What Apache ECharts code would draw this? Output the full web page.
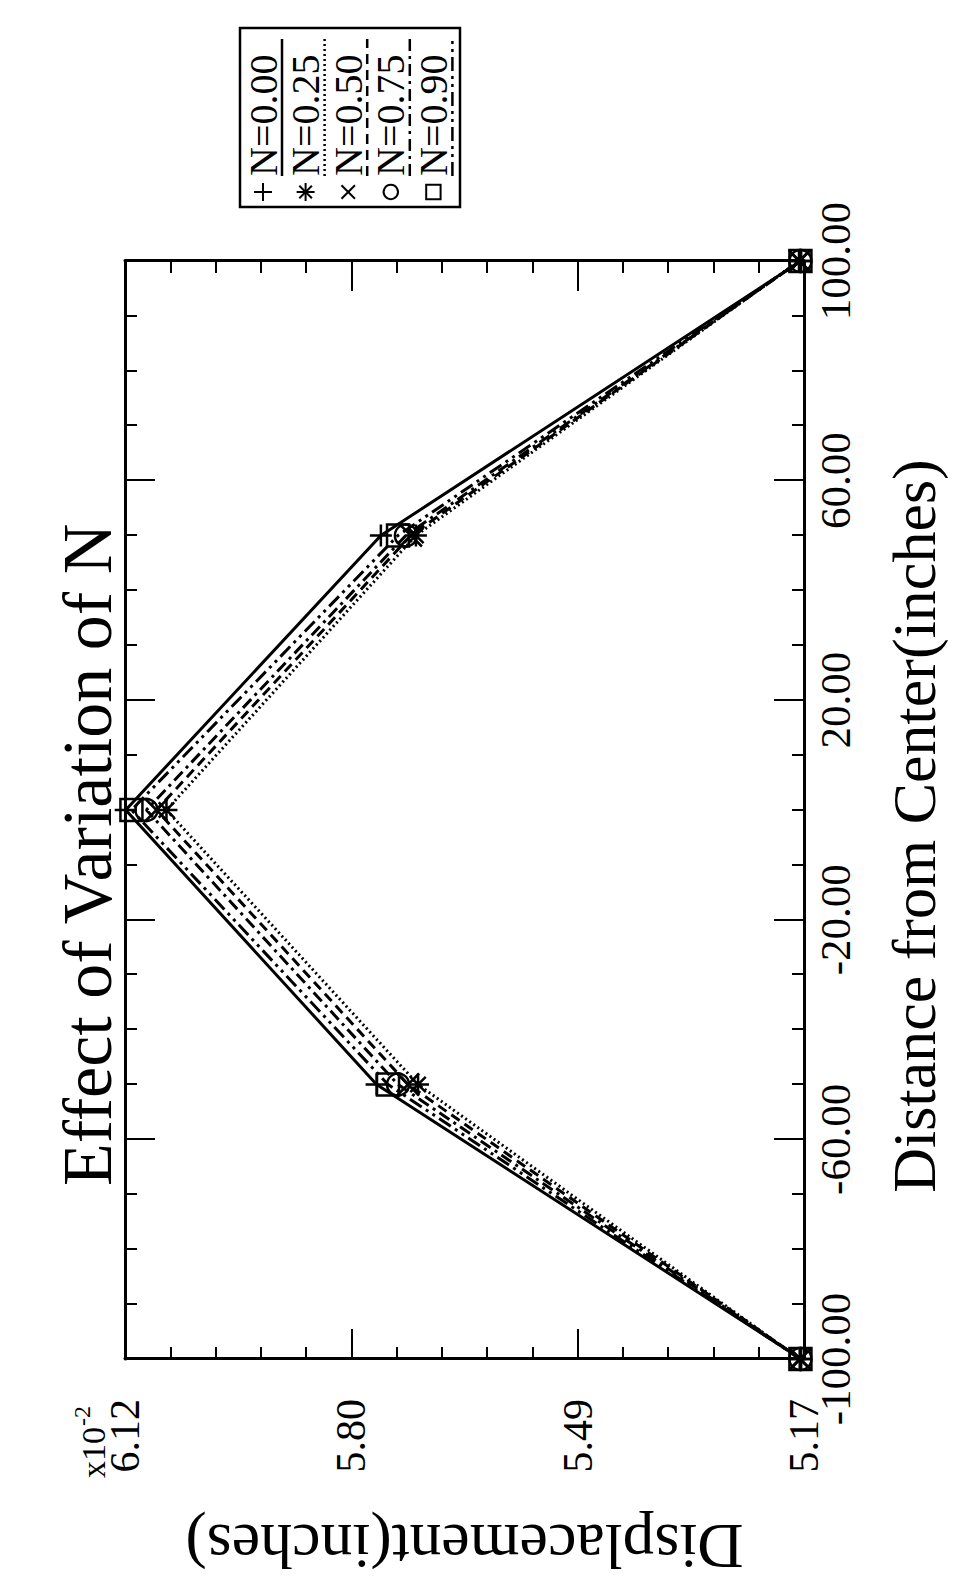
<!DOCTYPE html>
<html><head><meta charset="utf-8">
<script src="https://cdn.jsdelivr.net/npm/echarts@6/dist/echarts.min.js"></script>
<style>
html,body{margin:0;padding:0;background:#fff;width:953px;height:1586px;overflow:hidden;}
#chart{position:absolute;left:0;top:0;width:1586px;height:953px;transform-origin:0 0;transform:translate(0,1586px) rotate(-90deg);background:#fff;}
</style></head><body><div id="chart"></div>
<script>
// ---- data (displacement in units of 1e-2 inches) ----
const distance = [-100, -50, 0, 50, 100];
const seriesNames = ['N=0.00', 'N=0.25', 'N=0.50', 'N=0.75', 'N=0.90'];
const dispN000 = [5.174, 5.768, 6.119, 5.762, 5.174];
const dispN025 = [5.176, 5.710, 6.062, 5.713, 5.177];
const dispN050 = [5.175, 5.724, 6.076, 5.720, 5.176];
const dispN075 = [5.175, 5.738, 6.090, 5.727, 5.175];
const dispN090 = [5.175, 5.752, 6.111, 5.738, 5.175];
const xTickLabels = ['-100.00', '-60.00', '-20.00', '20.00', '60.00', '100.00'];
const yTickLabels = ['5.17', '5.49', '5.80', '6.12'];

const FONT = '"Liberation Serif", "DejaVu Serif", serif';
const allData = [dispN000, dispN025, dispN050, dispN075, dispN090];
const dashes = ['solid', [2, 3], [10, 6], [12, 5, 3, 5], [14, 5, 3, 5, 3, 5]];
const symbols = [
  'path://M0,10L20,10M10,0L10,20',
  'path://M10,0L10,20M0,10L20,10M3,3L17,17M17,3L3,17',
  'path://M0,0L20,20M20,0L0,20',
  'path://M10,0A10,10,0,1,1,9.99,0Z',
  'path://M0,0L20,0L20,20L0,20Z'
];

const chart = echarts.init(document.getElementById('chart'), null, {renderer: 'svg', width: 1586, height: 953});

const series = allData.map((d, i) => ({
  name: seriesNames[i],
  type: 'line',
  data: distance.map((x, j) => [x, d[j]]),
  symbol: symbols[i],
  symbolSize: 22,
  showSymbol: true,
  itemStyle: {color: 'rgba(0,0,0,0)', borderColor: '#000', borderWidth: 2.5},
  lineStyle: {color: '#000', width: 3, type: dashes[i]},
  emphasis: {disabled: true},
  animation: false
}));

// legend drawn as graphic (marker + label, line sample underneath)
const LG = {x: 1379, y: 240, w: 179, h: 220, pitch: 42.6, font: 40};
const legendEls = [{type: 'rect', shape: {x: LG.x, y: LG.y, width: LG.w, height: LG.h}, style: {fill: '#fff', stroke: '#000', lineWidth: 2.5}}];
function markerEls(kind, cx, cy, r) {
  const st = {stroke: '#000', lineWidth: 2, fill: 'none'};
  if (kind === 0) return [{type: 'line', shape: {x1: cx - r, y1: cy, x2: cx + r, y2: cy}, style: st}, {type: 'line', shape: {x1: cx, y1: cy - r, x2: cx, y2: cy + r}, style: st}];
  if (kind === 1) { const d = r * 0.7; return [
    {type: 'line', shape: {x1: cx - r, y1: cy, x2: cx + r, y2: cy}, style: st},
    {type: 'line', shape: {x1: cx, y1: cy - r, x2: cx, y2: cy + r}, style: st},
    {type: 'line', shape: {x1: cx - d, y1: cy - d, x2: cx + d, y2: cy + d}, style: st},
    {type: 'line', shape: {x1: cx - d, y1: cy + d, x2: cx + d, y2: cy - d}, style: st}]; }
  if (kind === 2) { const d = r * 0.75; return [
    {type: 'line', shape: {x1: cx - d, y1: cy - d, x2: cx + d, y2: cy + d}, style: st},
    {type: 'line', shape: {x1: cx - d, y1: cy + d, x2: cx + d, y2: cy - d}, style: st}]; }
  if (kind === 3) return [{type: 'circle', shape: {cx: cx, cy: cy, r: r * 0.8}, style: st}];
  return [{type: 'rect', shape: {x: cx - r * 0.8, y: cy - r * 0.8, width: r * 1.6, height: r * 1.6}, style: st}];
}
seriesNames.forEach((nm, i) => {
  const cy = LG.y + 23 + i * LG.pitch;
  markerEls(i, LG.x + 15, cy, 9).forEach(e => legendEls.push(e));
  legendEls.push({type: 'text', x: LG.x + 31, y: cy, style: {text: nm, font: LG.font + 'px ' + FONT, fill: '#000', verticalAlign: 'middle', align: 'left'}});
  const dash = dashes[i] === 'solid' ? null : dashes[i];
  legendEls.push({type: 'line', shape: {x1: LG.x + 31, y1: cy + 19, x2: LG.x + 168, y2: cy + 19}, style: {stroke: '#000', lineWidth: 2.5, lineDash: dash}});
});

const tickStyle = {color: '#000', width: 2};
const option = {
  backgroundColor: '#fff',
  animation: false,
  title: {text: 'Effect of Variation of N', left: 400, top: 52, padding: 0,
    textStyle: {fontFamily: FONT, fontSize: 70, fontWeight: 'normal', color: '#000'}},
  grid: {left: 197, right: 261, top: 125, bottom: 149, containLabel: false},
  xAxis: [{
    type: 'value', min: -100, max: 100, interval: 40, position: 'bottom',
    name: 'Distance from Center(inches)', nameLocation: 'middle', nameGap: 79,
    nameTextStyle: {fontFamily: FONT, fontSize: 62, color: '#000', padding: [0, 32, 0, 0]},
    axisLine: {show: true, onZero: false, lineStyle: {color: '#000', width: 3}},
    axisTick: {show: true, inside: true, length: 30, lineStyle: tickStyle},
    minorTick: {show: true, splitNumber: 4, length: 12, lineStyle: tickStyle},
    axisLabel: {fontFamily: FONT, fontSize: 43, color: '#000', margin: 10,
      formatter: (v, idx) => xTickLabels[idx] !== undefined ? xTickLabels[idx] : v.toFixed(2)},
    splitLine: {show: false}
  }, {
    type: 'value', min: -100, max: 100, interval: 40, position: 'top',
    axisLine: {show: true, onZero: false, lineStyle: {color: '#000', width: 3}},
    axisTick: {show: true, inside: true, length: 30, lineStyle: tickStyle},
    minorTick: {show: true, splitNumber: 4, length: 12, lineStyle: tickStyle},
    axisLabel: {show: false}, splitLine: {show: false}
  }],
  yAxis: [{
    type: 'value', min: 5.17, max: 6.12, interval: 0.3166667, position: 'left',
    name: 'Displacement(inches)', nameLocation: 'middle', nameGap: 155, nameRotate: 90,
    nameTextStyle: {fontFamily: FONT, fontSize: 64, color: '#000'},
    axisLine: {show: true, onZero: false, lineStyle: {color: '#000', width: 3}},
    axisTick: {show: true, inside: true, length: 30, lineStyle: tickStyle},
    minorTick: {show: true, splitNumber: 5, length: 12, lineStyle: tickStyle},
    axisLabel: {fontFamily: FONT, fontSize: 42, color: '#000', margin: 40,
      formatter: (v, idx) => yTickLabels[idx] !== undefined ? yTickLabels[idx] : v.toFixed(2)},
    splitLine: {show: false}
  }, {
    type: 'value', min: 5.17, max: 6.12, interval: 0.3166667, position: 'right',
    axisLine: {show: true, onZero: false, lineStyle: {color: '#000', width: 3}},
    axisTick: {show: true, inside: true, length: 30, lineStyle: tickStyle},
    minorTick: {show: true, splitNumber: 5, length: 12, lineStyle: tickStyle},
    axisLabel: {show: false}, splitLine: {show: false}
  }],
  graphic: [
    {type: 'text', left: 108, top: 76, style: {text: 'x10', font: '34px ' + FONT, fill: '#000'}},
    {type: 'text', left: 160, top: 70, style: {text: '-2', font: '24px ' + FONT, fill: '#000'}},
    {type: 'group', children: legendEls}
  ],
  series: series
};
chart.setOption(option);
</script></body></html>
